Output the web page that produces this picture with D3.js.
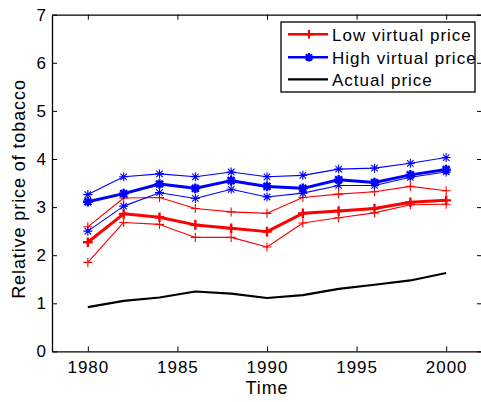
<!DOCTYPE html>
<html>
<head>
<meta charset="utf-8">
<script src="https://cdn.jsdelivr.net/npm/d3@7"></script>
<style>
  body { margin: 0; background: #fff; }
  svg { display: block; }
  text { font-family: "Liberation Sans", Arial, Helvetica, sans-serif; fill: #000; }
</style>
</head>
<body>
<div id="chart"></div>
<script>
// Survey years
const years = [1980, 1982, 1984, 1986, 1988, 1990, 1992, 1994, 1996, 1998, 2000];

// Low virtual price: central estimate with upper and lower bands
const lowMid   = [2.27, 2.86, 2.79, 2.63, 2.56, 2.49, 2.87, 2.92, 2.97, 3.10, 3.14];
const lowUpper = [2.59, 3.19, 3.20, 2.97, 2.90, 2.87, 3.20, 3.27, 3.32, 3.43, 3.34];
const lowLower = [1.85, 2.68, 2.64, 2.37, 2.37, 2.17, 2.67, 2.78, 2.88, 3.05, 3.06];

// High virtual price: central estimate with upper and lower bands
const highMid   = [3.11, 3.28, 3.48, 3.39, 3.55, 3.43, 3.39, 3.57, 3.51, 3.67, 3.78];
const highUpper = [3.26, 3.63, 3.69, 3.63, 3.73, 3.63, 3.66, 3.79, 3.81, 3.91, 4.03];
const highLower = [2.50, 3.02, 3.30, 3.18, 3.37, 3.21, 3.29, 3.45, 3.45, 3.62, 3.73];

// Observed relative price
const actual = [0.92, 1.05, 1.12, 1.245, 1.20, 1.11, 1.17, 1.30, 1.385, 1.475, 1.63];

const xTicks = [1980, 1985, 1990, 1995, 2000];
const yTicks = [0, 1, 2, 3, 4, 5, 6, 7];
const legendLabels = ["Low virtual price", "High virtual price", "Actual price"];

const W = 481, H = 402;
const plotLeft = 52, plotRight = 482, plotTop = 14.7, plotBottom = 351.4;

const svg = d3.select("#chart").append("svg").attr("width", W).attr("height", H);

const x = d3.scaleLinear().domain([1978, 2002]).range([plotLeft, plotRight]);
const y = d3.scaleLinear().domain([0, 7]).range([plotBottom, plotTop]);

const RED = "#ff0000", BLUE = "#0000ff";

// Marker shapes
const plusPath = r => `M${-r},0H${r}M0,${-r}V${r}`;
const starPath = r => {
  const d = r * 0.72;
  return `M${-r},0H${r}M0,${-r}V${r}M${-d},${-d}L${d},${d}M${-d},${d}L${d},${-d}`;
};

const line = d3.line().x((d, i) => x(years[i])).y(d => y(d));

const plot = svg.append("g");

function drawSeries(values, color, width, marker, mSize, mWidth) {
  plot.append("path")
    .datum(values)
    .attr("d", line)
    .attr("fill", "none")
    .attr("stroke", color)
    .attr("stroke-width", width)
    .attr("stroke-linejoin", "round");
  if (marker) {
    plot.append("g").selectAll("path")
      .data(values)
      .join("path")
      .attr("transform", (d, i) => `translate(${x(years[i])},${y(d)})`)
      .attr("d", marker(mSize))
      .attr("fill", "none")
      .attr("stroke", color)
      .attr("stroke-width", mWidth);
  }
}

drawSeries(lowUpper, RED, 1.1, plusPath, 4.5, 1.1);
drawSeries(lowLower, RED, 1.1, plusPath, 4.5, 1.1);
drawSeries(highUpper, BLUE, 1.1, starPath, 4.5, 1.1);
drawSeries(highLower, BLUE, 1.1, starPath, 4.5, 1.1);
drawSeries(lowMid, RED, 3, plusPath, 4.8, 2.4);
drawSeries(highMid, BLUE, 3, starPath, 4.8, 2.4);
drawSeries(actual, "#000", 2.2, null);

// Axes box with inward ticks
const axisStyle = g => {
  g.selectAll(".domain").attr("stroke", "#000").attr("stroke-width", 1.3);
  g.selectAll(".tick line").attr("stroke", "#000").attr("stroke-width", 1);
};

svg.append("g")
  .attr("transform", `translate(0,${plotBottom})`)
  .call(d3.axisBottom(x).tickValues(xTicks).tickFormat(d3.format("d"))
    .tickSize(-5).tickSizeOuter(0).tickPadding(10))
  .call(axisStyle)
  .call(g => g.selectAll("text")
    .attr("font-size", 17).attr("letter-spacing", 1)
    .attr("font-family", "Liberation Sans, Arial, sans-serif").attr("fill", "#000"));

svg.append("g")
  .attr("transform", `translate(0,${plotTop})`)
  .call(d3.axisTop(x).tickValues(xTicks).tickFormat("").tickSize(-5).tickSizeOuter(0))
  .call(axisStyle);

svg.append("g")
  .attr("transform", `translate(${plotLeft},0)`)
  .call(d3.axisLeft(y).tickValues(yTicks).tickFormat(d3.format("d"))
    .tickSize(-5).tickSizeOuter(0).tickPadding(6))
  .call(axisStyle)
  .call(g => g.selectAll("text")
    .attr("font-size", 17)
    .attr("font-family", "Liberation Sans, Arial, sans-serif").attr("fill", "#000"));

svg.append("g")
  .attr("transform", `translate(${plotRight},0)`)
  .call(d3.axisRight(y).tickValues(yTicks).tickFormat("").tickSize(-5).tickSizeOuter(0))
  .call(axisStyle);

// Axis titles
svg.append("text")
  .attr("x", (plotLeft + plotRight) / 2)
  .attr("y", 394)
  .attr("text-anchor", "middle")
  .attr("font-size", 18)
  .attr("letter-spacing", 0.9)
  .text("Time");

svg.append("text")
  .attr("transform", "translate(25,189) rotate(-90)")
  .attr("text-anchor", "middle")
  .attr("font-size", 18)
  .attr("letter-spacing", 0.9)
  .text("Relative price of tobacco");

// Legend
const legend = svg.append("g");
legend.append("rect")
  .attr("x", 281).attr("y", 22).attr("width", 194).attr("height", 70)
  .attr("fill", "#fff").attr("stroke", "#000").attr("stroke-width", 1.3);

const legendItems = [
  { label: legendLabels[0], color: RED, marker: plusPath },
  { label: legendLabels[1], color: BLUE, marker: starPath },
  { label: legendLabels[2], color: "#000", marker: null }
];
const rowY = [34.3, 57.3, 79.3];

legendItems.forEach((item, i) => {
  const g = legend.append("g").attr("transform", `translate(0,${rowY[i]})`);
  g.append("line")
    .attr("x1", 288).attr("x2", 328).attr("y1", 0).attr("y2", 0)
    .attr("stroke", item.color).attr("stroke-width", item.marker ? 2.6 : 2.2);
  if (item.marker) {
    g.append("path")
      .attr("transform", "translate(309,0)")
      .attr("d", item.marker(4.3))
      .attr("fill", "none").attr("stroke", item.color).attr("stroke-width", 2.2);
  }
  g.append("text")
    .attr("x", 332).attr("y", 6.3)
    .attr("font-size", 17)
    .attr("letter-spacing", 1)
    .text(item.label);
});
</script>
</body>
</html>
